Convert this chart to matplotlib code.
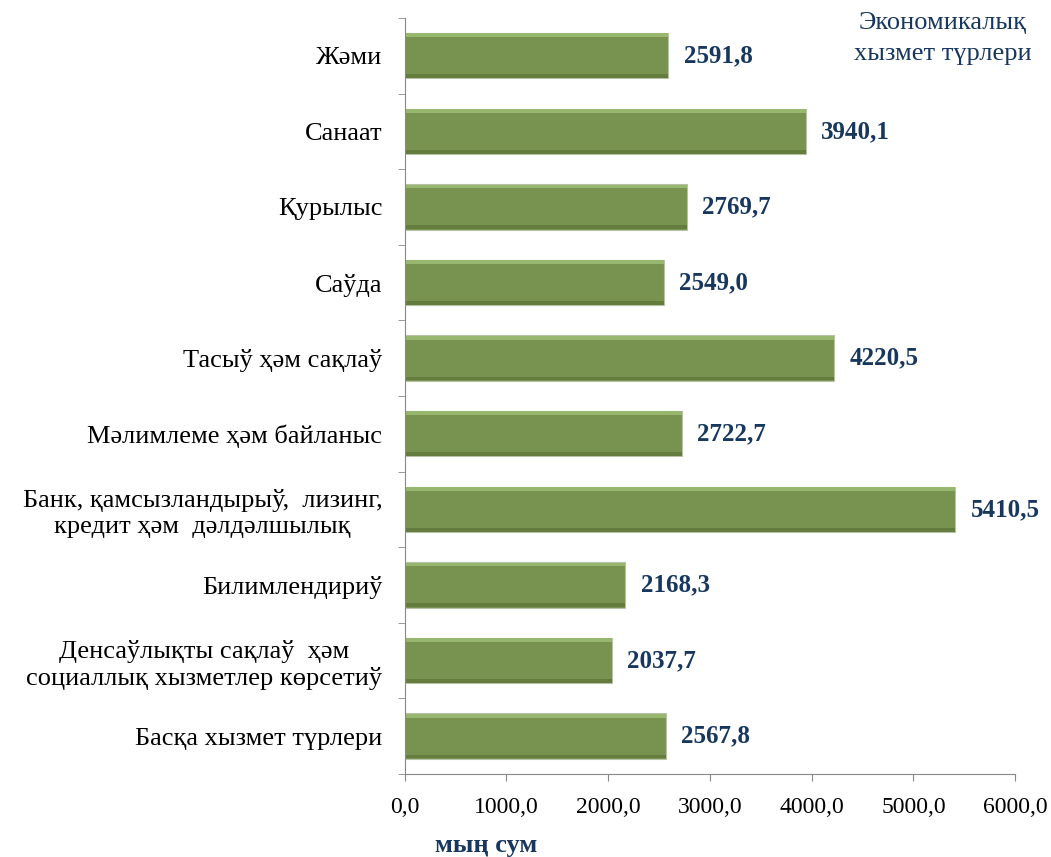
import matplotlib.pyplot as plt
from matplotlib.ticker import FuncFormatter

# dados do gráfico (de cima para baixo)
categorias = [
    "Жәми",
    "Санаат",
    "Қурылыс",
    "Саўда",
    "Тасыў ҳәм сақлаў",
    "Мәлимлеме ҳәм байланыс",
    "Банк, қамсызландырыў,  лизинг,\nкредит ҳәм  дәлдәлшылық",
    "Билимлендириў",
    "Денсаўлықты сақлаў  ҳәм\nсоциаллық хызметлер көрсетиў",
    "Басқа хызмет түрлери",
]
valores = [2591.8, 3940.1, 2769.7, 2549.0, 4220.5, 2722.7, 5410.5, 2168.3, 2037.7, 2567.8]
rotulos_valores = ["2591,8", "3940,1", "2769,7", "2549,0", "4220,5",
                   "2722,7", "5410,5", "2168,3", "2037,7", "2567,8"]

plt.rcParams['font.family'] = ['Liberation Serif', 'DejaVu Serif']
azul = '#17375e'

fig = plt.figure(figsize=(10.51, 8.57), dpi=100)
ax = fig.add_axes([0.385, 0.097, 0.581, 0.882])

pos = list(range(len(categorias)))
altura = 0.6
ax.barh(pos, valores, height=altura, color='#77934f', edgecolor='#b8c2a8', linewidth=0.8)
# bordas de relevo: claro em cima, escuro embaixo
ax.barh([p - altura / 2 + 0.03 for p in pos], valores, height=0.05, color='#98b76e', linewidth=0)
ax.barh([p + altura / 2 - 0.03 for p in pos], valores, height=0.05, color='#647d3f', linewidth=0)

for p, v, r in zip(pos, valores, rotulos_valores):
    ax.text(v + 150, p, r, va='center', ha='left', fontsize=18,
            fontweight='bold', color=azul)

ax.set_xlim(0, 6000)
ax.set_ylim(len(categorias) - 0.5, -0.5)
ax.set_xticks([0, 1000, 2000, 3000, 4000, 5000, 6000])
ax.xaxis.set_major_formatter(FuncFormatter(lambda x, _: f"{x:.1f}".replace('.', ',')))
ax.set_yticks(pos)
ax.set_yticklabels(categorias, fontsize=19, multialignment='center')
ax.tick_params(axis='y', length=0, pad=16)
ax.set_yticks([p + 0.5 for p in range(-1, len(categorias))], minor=True)
ax.tick_params(axis='y', which='minor', length=5, color='#888888')
ax.tick_params(axis='x', length=5, color='#888888', labelsize=17, pad=12)

for lado in ['top', 'right']:
    ax.spines[lado].set_visible(False)
for lado in ['left', 'bottom']:
    ax.spines[lado].set_color('#888888')

fig.text(0.897, 0.986, "Экономикалық\nхызмет түрлери", ha='center', va='top',
         fontsize=19, color=azul, multialignment='center', linespacing=1.55)
fig.text(0.463, 0.0, "мың сум", ha='center', va='bottom', fontsize=19,
         fontweight='bold', color=azul)

plt.savefig('out.png', dpi=100)
